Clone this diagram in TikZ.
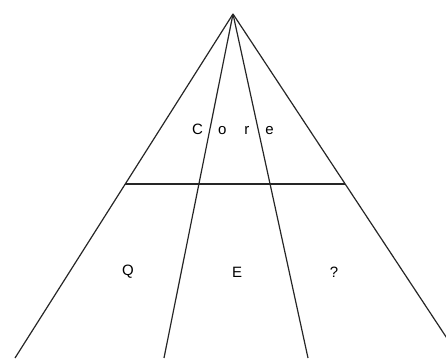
\documentclass[tikz,border=0pt]{standalone}
\usepackage{fontspec}
\setmainfont{Liberation Sans}
\usepackage{tikz}
\usetikzlibrary{positioning,calc}
\tikzset{
  edge/.style  = {draw=black!85, line width=1.2pt},
  lbl/.style   = {font=\fontsize{15}{17}\selectfont, inner sep=1pt},
}

\begin{document}
\begin{tikzpicture}[x=1pt,y=1pt]
  \useasboundingbox (0,0) rectangle (446,358);
  \clip (0,0) rectangle (446,358);
  % apex and base points
  \coordinate (top) at (233,344);
  \coordinate (bl) at (15,0);
  \coordinate (br) at (460,0);
  \coordinate (il) at (164,0);
  \coordinate (ir) at (308,0);
  \coordinate (hl) at (125,174);
  \coordinate (hr) at (345,174);
  \draw[edge] (top) -- (bl);
  \draw[edge] (top) -- (br);
  \draw[edge] (top) -- (il);
  \draw[edge] (top) -- (ir);
  \draw[edge] (hl) -- (hr);
  % labels
  \node[lbl] (core) at (233,229) {C\hspace{15pt}o\hspace{18pt}r\hspace{16pt}e};
  \node[lbl] (q) at (128,86) {Q};
  \node[lbl] (e) at (237,86) {E};
  \node[lbl] (unk) at (334,86) {?};
\end{tikzpicture}
\end{document}
